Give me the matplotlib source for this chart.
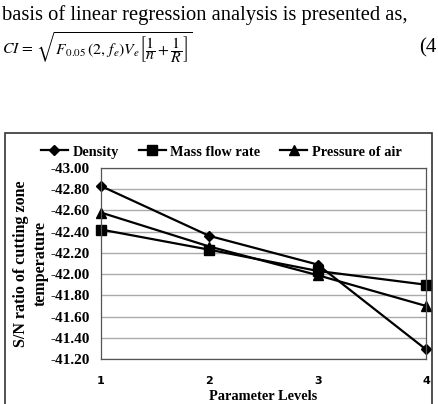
import matplotlib.pyplot as plt
from matplotlib.patches import Rectangle

levels = [1, 2, 3, 4]
density = [-42.83, -42.36, -42.09, -41.29]
mass_flow = [-42.42, -42.23, -42.03, -41.90]
pressure = [-42.58, -42.26, -41.99, -41.70]
y_ticks = [-43.00, -42.80, -42.60, -42.40, -42.20, -42.00, -41.80, -41.60, -41.40, -41.20]

plt.rcParams["mathtext.fontset"] = "stix"
serif = "Liberation Serif"

fig = plt.figure(figsize=(4.38, 4.04), dpi=100)

# paper text above the chart
fig.text(0.004, 1 - 20 / 404, "basis of linear regression analysis is presented as,",
         family=serif, fontsize=14.8, ha="left", va="baseline")
fig.text(0.004, 1 - 48 / 404,
         r"$CI\,=\,\sqrt{F_{0.05}\,(2,\,f_e)V_e\left[\dfrac{1}{n}+\dfrac{1}{R}\right]}$",
         fontsize=11.3, ha="left", va="center")
fig.text(0.958, 1 - 48 / 404, "(4", family=serif, fontsize=15, ha="left", va="center")

# chart frame
fig.patches.append(Rectangle((5 / 438, -0.05), 427 / 438, 1.05 - 133 / 404,
                             transform=fig.transFigure, fill=False,
                             edgecolor="#333333", linewidth=1.2))

ax = fig.add_axes([101 / 438, 1 - 359 / 404, 325 / 438, 191 / 404])
ax.plot(levels, density, color="black", lw=1.6, marker="D", ms=5.5, label="Density")
ax.plot(levels, mass_flow, color="black", lw=1.6, marker="s", ms=6.5, label="Mass flow rate")
ax.plot(levels, pressure, color="black", lw=1.6, marker="^", ms=7.5, label="Pressure of air")

ax.set_xlim(1, 4)
ax.set_ylim(-41.2, -43.0)
ax.set_yticks(y_ticks)
ax.set_yticklabels([f"{v:.2f}" for v in y_ticks], family=serif, fontweight="bold", fontsize=11)
ax.set_xticks(levels)
ax.set_xticklabels([str(v) for v in levels], family="DejaVu Sans", fontweight="bold", fontsize=8)
ax.tick_params(length=0, axis="both")
ax.tick_params(axis="x", pad=12)
ax.tick_params(axis="y", pad=8)
ax.grid(axis="y", color="#aaaaaa", lw=1)
for s in ax.spines.values():
    s.set_color("#555555")
    s.set_linewidth(0.9)
for line in ax.lines:
    line.set_clip_on(False)

ax.set_xlabel("Parameter Levels", family=serif, fontweight="bold", fontsize=10.4, labelpad=3)
ax.set_ylabel("S/N ratio of cutting zone\ntemperature", family=serif, fontweight="bold",
              fontsize=11.5, linespacing=1.3)
ax.yaxis.set_label_coords(-0.16, 0.5)

fig.legend(loc="center", bbox_to_anchor=(0.505, 1 - 152 / 404), ncol=3, frameon=False,
           prop={"family": serif, "weight": "bold", "size": 10.3}, handlelength=1.9,
           columnspacing=1.4, handletextpad=0.3)

fig.savefig("out.png", dpi=100)
